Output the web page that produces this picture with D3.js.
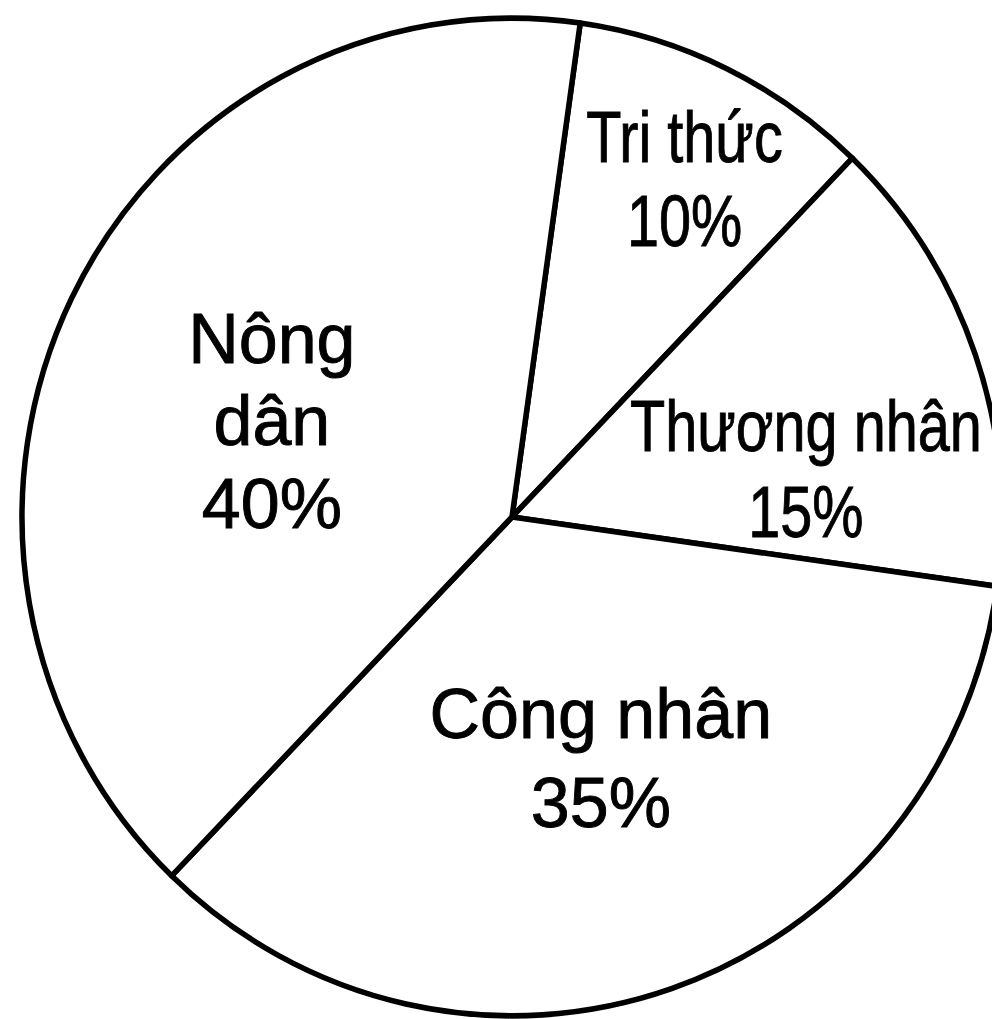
<!DOCTYPE html>
<html>
<head>
<meta charset="utf-8">
<script src="https://cdn.jsdelivr.net/npm/d3@7"></script>
<style>
  html, body { margin: 0; padding: 0; background: #fff; overflow: hidden; }
  svg { display: block; }
</style>
</head>
<body>
<svg id="chart" width="992" height="1019"></svg>
<script>
// Cơ cấu thành phần xã hội (%)
const categories = ["Tri thức", "Thương nhân", "Công nhân", "Nông dân"];
const shares = [10, 15, 35, 40];
const labelLines = [["Tri thức"], ["Thương nhân"], ["Công nhân"], ["Nông", "dân"]];

// Layout settings
const width = 992, height = 1019;
const cx = 512, cy = 517;
const radius = 490;
const ySquash = 1.018;
const startOffset = 8 * Math.PI / 180;
// label placement: radius from centre and angular nudge (degrees) from the slice middle
const labelRadius = [380, 298, 256, 259];
const labelNudge = [1.0, 9.5, -1.3, -4];
const condensed = [true, true, false, false];
const lineGap = [84, 86, 89, 82.5];

const svg = d3.select("#chart");
svg.append("rect").attr("width", width).attr("height", height).attr("fill", "#fff");

const data = categories.map((c, i) => ({ name: c, value: shares[i], lines: labelLines[i], idx: i }));

const pie = d3.pie()
  .sort(null)
  .value(d => d.value)
  .startAngle(startOffset)
  .endAngle(startOffset + 2 * Math.PI);

const arcs = pie(data);
const arc = d3.arc().innerRadius(0).outerRadius(radius);

const g = svg.append("g")
  .attr("transform", `translate(${cx},${cy}) scale(1,${ySquash})`);

g.selectAll("path.slice")
  .data(arcs)
  .join("path")
  .attr("class", "slice")
  .attr("d", arc)
  .attr("fill", "#fff")
  .attr("stroke", "#000")
  .attr("stroke-width", 5.5)
  .attr("stroke-linejoin", "round");

// Labels
const labelLayer = svg.append("g").attr("transform", `translate(${cx},${cy})`);

arcs.forEach((a, i) => {
  const mid = (a.startAngle + a.endAngle) / 2 + labelNudge[i] * Math.PI / 180;
  const r = labelRadius[i];
  const [lx, ly] = d3.arc().innerRadius(r).outerRadius(r).centroid({ startAngle: mid, endAngle: mid });
  const lines = a.data.lines.concat([a.data.value + "%"]);
  const fs = condensed[i] ? 72 : 70;
  const cap = fs * 0.716;
  const gap = lineGap[i];
  const firstBase = -gap * (lines.length - 1) / 2 + cap / 2;

  const t = labelLayer.append("text")
    .attr("transform", `translate(${lx},${ly}) scale(${condensed[i] ? 0.8 : 1},1)`)
    .attr("text-anchor", "middle")
    .attr("font-family", "'Liberation Sans', Arial, sans-serif")
    .attr("font-size", fs)
    .attr("fill", "#000")
    .attr("stroke", "#000")
    .attr("stroke-width", 0.9);

  lines.forEach((s, k) => {
    t.append("tspan")
      .attr("x", 0)
      .attr("y", firstBase + k * gap)
      .text(s);
  });
});
</script>
</body>
</html>
